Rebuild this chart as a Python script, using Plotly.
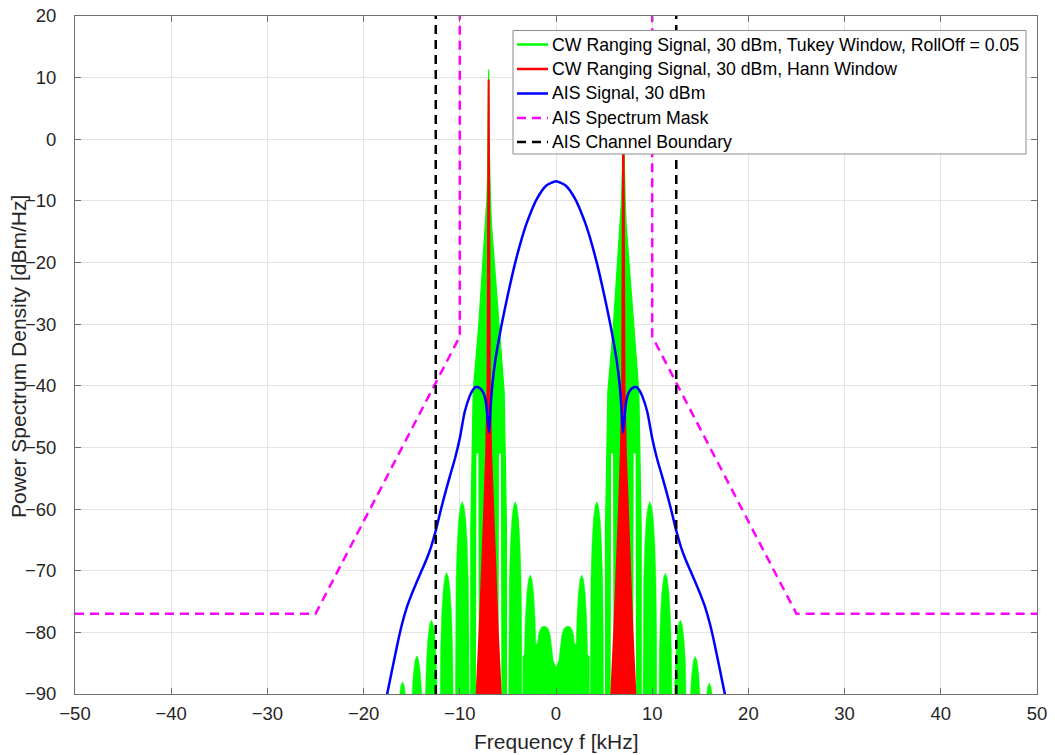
import plotly.graph_objects as go

# ---------------- data ----------------
freq_ticks = [-50, -40, -30, -20, -10, 0, 10, 20, 30, 40, 50]
psd_ticks = [-90, -80, -70, -60, -50, -40, -30, -20, -10, 0, 10, 20]
freq_range = [-50, 50]
psd_range = [-90, 20]

# CW tone frequencies (kHz)
tone_freq_khz = [-7.0, 7.0]

# Tukey-window spectrum: central spike around each tone (offset from tone in kHz, level in dBm/Hz)
spike_offset_khz = [-1.85, -1.85, -1.72, -1.61, -1.04, -0.58, -0.28, -0.19, -0.1, -0.05, 0.0,
                    0.05, 0.1, 0.19, 0.28, 0.58, 1.04, 1.61, 1.72, 1.85, 1.85]
spike_psd_dbm = [-95, -63, -51, -41, -30.4, -20, -13.6, -9.9, -5, 0, 11.3,
                 0, -5, -9.9, -13.6, -20, -30.4, -41, -51, -63, -95]

# Tukey-window spectrum: sidelobes (centre kHz, peak dBm/Hz, half-width kHz)
lobe_center_khz = [-15.95, -14.46, -12.95, -11.37, -9.75, -4.24, -2.68,
                   2.68, 4.24, 9.75, 11.37, 12.93, 14.47, 15.94]
lobe_peak_dbm = [-88.0, -83.8, -78.0, -70.3, -58.8, -58.8, -70.7,
                 -70.7, -58.8, -58.8, -70.4, -78.0, -83.9, -88.2]
lobe_halfwidth_khz = [0.73, 0.74, 0.74, 0.73, 0.74, 0.71, 0.71,
                      0.71, 0.71, 0.74, 0.73, 0.74, 0.74, 0.73]

# Tukey-window spectrum: low region between the two tones
mid_freq_khz = [-3.46, -1.9, -1.84, -1.7, -1.45, -1.12, -0.8, -0.6, -0.45, -0.3, 0.0,
                0.3, 0.45, 0.6, 0.8, 1.12, 1.45, 1.7, 1.84, 1.9, 3.46]
mid_psd_dbm = [-83.9, -81.7, -80.6, -79.7, -79.1, -79.0, -79.4, -80.5, -82.5, -84.5, -85.8,
               -84.5, -82.5, -80.5, -79.4, -79.0, -79.1, -79.7, -80.6, -81.7, -83.9]

# narrow gaps beside each tone (offset from tone, kHz) and the level they open at
gap_offset_khz = [-1.17, 1.17]
gap_top_dbm = -51

# Hann-window spectrum: shape of each tone (offset from tone, kHz)
red_offset_khz = [-1.3, -1.25, -0.95, -0.73, -0.5, -0.26, -0.12, -0.07, 0.0,
                  0.07, 0.12, 0.26, 0.5, 0.73, 0.95, 1.25, 1.3]
red_psd_dbm = [-95, -90, -80, -71.7, -62, -51, -40, -20, 9.7,
               -20, -40, -51, -62, -71.7, -80, -90, -95]

# AIS signal (GMSK), 30 dBm
ais_freq_khz = [-17.8, -17.5, -17.0, -16.5, -16.0, -15.5, -15.0, -14.5, -14.0, -13.5, -13.0, -12.5,
                -12.0, -11.5, -11.0, -10.5, -10.0, -9.5, -9.0, -8.7, -8.34, -8.0, -7.6, -7.3, -7.1,
                -6.95, -6.8, -6.6, -6.3, -6.0, -5.63, -5.0, -4.25, -3.5, -3.0, -2.0, -1.0, 0.0,
                1.0, 2.0, 3.0, 3.5, 4.25, 5.0, 5.63, 6.0, 6.3, 6.6, 6.8, 6.95, 7.1, 7.3, 7.6, 8.0,
                8.34, 8.7, 9.0, 9.5, 10.0, 10.5, 11.0, 11.5, 12.0, 12.5, 13.0, 13.5, 14.0, 14.5,
                15.0, 15.5, 16.0, 16.5, 17.0, 17.5, 17.8]
ais_psd_dbm = [-92, -89.6, -85.8, -82.0, -78.6, -75.9, -73.8, -71.9, -70.1, -68.3, -66.2, -63.5,
               -60.3, -57.3, -54.5, -51.8, -48.5, -44.3, -41.8, -40.8, -40.2, -40.3, -41.0, -42.5, -45.5,
               -47.6, -43.5, -39.6, -35.8, -33.0, -29.9, -25.2, -20.1, -15.8, -13.4, -9.7, -7.5, -6.8,
               -7.5, -9.7, -13.4, -15.8, -20.1, -25.2, -29.9, -33.0, -35.8, -39.6, -43.5, -47.6, -45.5,
               -42.5, -41.0, -40.3, -40.2, -40.8, -41.8, -44.3, -48.5, -51.8, -54.5, -57.3, -60.3, -63.5,
               -66.2, -68.3, -70.1, -71.9, -73.8, -75.9, -78.6, -82.0, -85.8, -89.6, -92]

# AIS spectrum mask
mask_freq_khz = [-50, -25, -10, -10, 10, 10, 25, 50]
mask_psd_dbm = [-77, -77, -32, 25, 25, -32, -77, -77]

# AIS channel boundaries (kHz)
channel_edge_khz = [-12.5, 12.5]

# arch shape used to draw one sidelobe: position across the lobe and drop below its peak (dB)
ARCH_U = [-1.0, -0.95, -0.85, -0.7, -0.5, -0.25, 0.0, 0.25, 0.5, 0.7, 0.85, 0.95, 1.0]
ARCH_DROP = [40, 22, 12.6, 6.9, 3.0, 0.7, 0.0, 0.7, 3.0, 6.9, 12.6, 22, 40]
BASE = -95  # below the visible range; closes every filled shape

GREEN = "#00ff00"
RED = "#ff0000"
BLUE = "#0000ff"
MAGENTA = "#ff00ff"
BLACK = "#000000"
FONT = "Liberation Sans, Arial, sans-serif"
TEXT = "#262626"
DASH = "9px,6px"

x_title = "Frequency f [kHz]"
y_title = "Power Spectrum Density [dBm/Hz]"
legend_names = [
    "CW Ranging Signal, 30 dBm, Tukey Window, RollOff = 0.05",
    "CW Ranging Signal, 30 dBm, Hann Window",
    "AIS Signal, 30 dBm",
    "AIS Spectrum Mask",
    "AIS Channel Boundary",
]
legend_colors = [GREEN, RED, BLUE, MAGENTA, BLACK]
legend_dash = ["solid", "solid", "solid", DASH, DASH]

fig = go.Figure()

# ---- Tukey-window spectrum (every shape wound the same way so overlaps stay filled)
gx, gy = [], []
gx += list(mid_freq_khz) + [mid_freq_khz[-1], mid_freq_khz[0], None]
gy += list(mid_psd_dbm) + [BASE, BASE, None]
for c, pk, hw in zip(lobe_center_khz, lobe_peak_dbm, lobe_halfwidth_khz):
    gx += [c + u * hw for u in ARCH_U] + [c + hw, c - hw, None]
    gy += [pk - d for d in ARCH_DROP] + [BASE, BASE, None]
fig.add_trace(go.Scatter(x=gx, y=gy, mode="lines", fill="toself", fillcolor=GREEN,
                         line=dict(color=GREEN, width=0.5), hoverinfo="skip",
                         name=legend_names[0]))

sx, sy = [], []
for tone in tone_freq_khz:
    sx += [tone + o for o in spike_offset_khz] + [None]
    sy += list(spike_psd_dbm) + [None]
fig.add_trace(go.Scatter(x=sx, y=sy, mode="lines", fill="toself", fillcolor=GREEN,
                         line=dict(color=GREEN, width=1.2), hoverinfo="skip",
                         name=legend_names[0]))

# narrow gaps inside the spike next to each tone
wx, wy = [], []
for tone in tone_freq_khz:
    for off in gap_offset_khz:
        c = tone + off
        wx += [c - 0.1, c + 0.1, c + 0.16, c - 0.16, c - 0.1, None]
        wy += [gap_top_dbm, gap_top_dbm, BASE, BASE, gap_top_dbm, None]
fig.add_trace(go.Scatter(x=wx, y=wy, mode="lines", fill="toself", fillcolor="white",
                         line=dict(width=0, color="white"), hoverinfo="skip"))

# ---- Hann-window spectrum
rx, ry = [], []
for tone in tone_freq_khz:
    rx += [tone + o for o in red_offset_khz] + [None]
    ry += list(red_psd_dbm) + [None]
fig.add_trace(go.Scatter(x=rx, y=ry, mode="lines", fill="toself", fillcolor=RED,
                         line=dict(color=RED, width=2), hoverinfo="skip",
                         name=legend_names[1]))

# ---- AIS signal
fig.add_trace(go.Scatter(x=ais_freq_khz, y=ais_psd_dbm, mode="lines", name=legend_names[2],
                         line=dict(color=BLUE, width=2.5, shape="spline", smoothing=0.6)))

# ---- mask
fig.add_trace(go.Scatter(x=mask_freq_khz, y=mask_psd_dbm, mode="lines", name=legend_names[3],
                         line=dict(color=MAGENTA, width=2.5, dash=DASH)))

# ---- channel boundaries
bx, by = [], []
for f in channel_edge_khz:
    bx += [f, f, None]
    by += [psd_range[0], psd_range[1], None]
fig.add_trace(go.Scatter(x=bx, y=by, mode="lines", name=legend_names[4],
                         line=dict(color=BLACK, width=2.5, dash=DASH)))

# ---- legend box and axis titles, placed in figure pixels
W, H = 1055, 755
ML, MR, MT, MB = 75, 18, 16, 61
PW, PH = W - ML - MR, H - MT - MB


def px_x(p):
    return (p - ML) / PW


def px_y(p):
    return 1 - (p - MT) / PH


shapes = [dict(type="rect", xref="paper", yref="paper", layer="above",
               x0=px_x(513), x1=px_x(1026), y0=px_y(154), y1=px_y(30.5),
               fillcolor="white", line=dict(color="#8c8c8c", width=1))]
annotations = []
row_y = [44.5, 69.0, 93.5, 118.0, 142.0]
for name, col, dsh, ry_px in zip(legend_names, legend_colors, legend_dash, row_y):
    shapes.append(dict(type="line", xref="paper", yref="paper", layer="above",
                       x0=px_x(517), x1=px_x(548), y0=px_y(ry_px), y1=px_y(ry_px),
                       line=dict(color=col, width=2.5, dash=dsh)))
    annotations.append(dict(xref="paper", yref="paper", x=px_x(550), y=px_y(ry_px),
                            xanchor="left", yanchor="middle", showarrow=False, text=name,
                            font=dict(family=FONT, size=17.7, color="#000000")))

annotations.append(dict(xref="paper", yref="paper", x=px_x(556), y=px_y(741),
                        xanchor="center", yanchor="middle", showarrow=False, text=x_title,
                        font=dict(family=FONT, size=21, color=TEXT)))
annotations.append(dict(xref="paper", yref="paper", x=px_x(18), y=px_y(357),
                        xanchor="center", yanchor="middle", showarrow=False, text=y_title,
                        textangle=-90, font=dict(family=FONT, size=21, color=TEXT)))

axis_common = dict(
    showgrid=True, gridcolor="#e4e4e4", gridwidth=1,
    showline=True, linecolor="#707070", linewidth=1, mirror="ticks",
    ticks="inside", ticklen=6, tickcolor="#707070", automargin=False,
    zeroline=False, tickfont=dict(family=FONT, size=18.5, color=TEXT),
)

fig.update_layout(
    width=W, height=H,
    margin=dict(l=ML, r=MR, t=MT, b=MB),
    paper_bgcolor="white", plot_bgcolor="white",
    font=dict(family=FONT, size=18.5, color=TEXT),
    xaxis=dict(range=freq_range, tickvals=freq_ticks, ticklabelstandoff=3, **axis_common),
    yaxis=dict(range=psd_range, tickvals=psd_ticks, ticklabelstandoff=14, **axis_common),
    shapes=shapes,
    annotations=annotations,
    showlegend=False,
)

fig.write_html("out.html")
